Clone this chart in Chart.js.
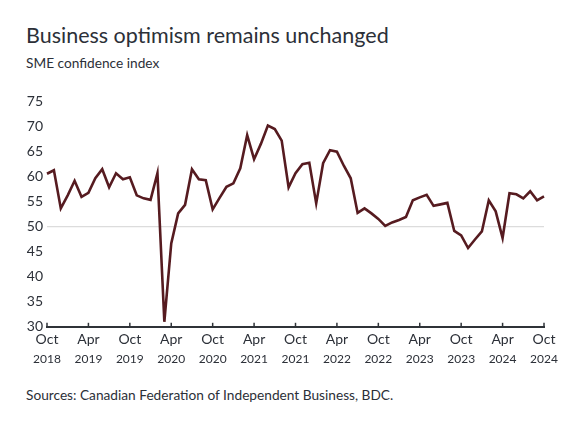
<!DOCTYPE html>
<html>
<head>
<meta charset="utf-8">
<script src="https://cdn.jsdelivr.net/npm/chart.js@4.4.1/dist/chart.umd.min.js"></script>
<style>
  body { margin: 0; background: #fff; }
  #wrap { position: relative; width: 575px; height: 431px; font-family: "Lato", sans-serif; color: #2c3038; }
  #title { position: absolute; left: 26px; top: 25px; font-size: 21.5px; line-height: 1; }
  #subtitle { position: absolute; left: 26px; top: 56px; font-size: 13.7px; line-height: 1; }
  #source { position: absolute; left: 26px; top: 388px; font-size: 13.7px; line-height: 1; }
  #box { position: absolute; left: 0; top: 85px; width: 575px; height: 285px; }
</style>
</head>
<body>
<div id="wrap">
  <div id="title">Business optimism remains unchanged</div>
  <div id="subtitle">SME confidence index</div>
  <div id="box"><canvas id="chart"></canvas></div>
  <div id="source">Sources: Canadian Federation of Independent Business, BDC.</div>
</div>
<script>
// monthly, Oct 2018 .. Oct 2024
const months = [
  "Oct 2018", "Nov 2018", "Dec 2018",
  "Jan 2019", "Feb 2019", "Mar 2019", "Apr 2019", "May 2019", "Jun 2019",
  "Jul 2019", "Aug 2019", "Sep 2019", "Oct 2019", "Nov 2019", "Dec 2019",
  "Jan 2020", "Feb 2020", "Mar 2020", "Apr 2020", "May 2020", "Jun 2020",
  "Jul 2020", "Aug 2020", "Sep 2020", "Oct 2020", "Nov 2020", "Dec 2020",
  "Jan 2021", "Feb 2021", "Mar 2021", "Apr 2021", "May 2021", "Jun 2021",
  "Jul 2021", "Aug 2021", "Sep 2021", "Oct 2021", "Nov 2021", "Dec 2021",
  "Jan 2022", "Feb 2022", "Mar 2022", "Apr 2022", "May 2022", "Jun 2022",
  "Jul 2022", "Aug 2022", "Sep 2022", "Oct 2022", "Nov 2022", "Dec 2022",
  "Jan 2023", "Feb 2023", "Mar 2023", "Apr 2023", "May 2023", "Jun 2023",
  "Jul 2023", "Aug 2023", "Sep 2023", "Oct 2023", "Nov 2023", "Dec 2023",
  "Jan 2024", "Feb 2024", "Mar 2024", "Apr 2024", "May 2024", "Jun 2024",
  "Jul 2024", "Aug 2024", "Sep 2024", "Oct 2024"
];

const confidence = [
  60.5, 61.2, 53.6,
  56.2, 59.1, 55.9, 56.7, 59.6, 61.4, 57.8, 60.6, 59.4, 59.8, 56.2, 55.6,
  55.3, 60.6, 31.0, 46.6, 52.6, 54.3, 61.4, 59.4, 59.2, 53.4, 55.7, 57.9,
  58.6, 61.6, 68.2, 63.4, 66.5, 70.1, 69.4, 67.1, 57.8, 60.6, 62.4, 62.7,
  54.6, 62.6, 65.2, 64.9, 62.1, 59.6, 52.7, 53.6, 52.6, 51.5, 50.1, 50.8,
  51.3, 51.9, 55.2, 55.8, 56.3, 54.1, 54.4, 54.7, 49.1, 48.2, 45.7, 47.4,
  49.0, 55.2, 53.0, 47.7, 56.6, 56.4, 55.6, 57.0, 55.2, 56.0
];

const yTicks = [30, 35, 40, 45, 50, 55, 60, 65, 70, 75];
const tickMonths = ["Oct", "Apr"];
const textColor = "#2c3038";

function isLabelled(i) {
  return tickMonths.includes(months[i].split(" ")[0]) && i % 6 === 0;
}

// small upward tick marks on the x axis
const upTicks = {
  id: "upTicks",
  afterDatasetsDraw(chart) {
    const xs = chart.scales.x;
    const c = chart.ctx;
    c.save();
    c.strokeStyle = "#2f3338";
    c.lineWidth = 1.5;
    months.forEach((m, i) => {
      if (!isLabelled(i)) return;
      const px = xs.getPixelForValue(i);
      c.beginPath();
      c.moveTo(px, xs.top);
      c.lineTo(px, xs.top - 4);
      c.stroke();
    });
    c.restore();
  }
};

const ctx = document.getElementById("chart").getContext("2d");
new Chart(ctx, {
  type: "line",
  data: {
    labels: months,
    datasets: [
      {
        label: "SME confidence index",
        data: confidence,
        borderColor: "#561b20",
        borderWidth: 2.6,
        pointRadius: 0,
        tension: 0,
        fill: false,
      },
    ],
  },
  options: {
    responsive: true,
    maintainAspectRatio: false,
    animation: false,
    layout: { padding: { top: 16, right: 31, left: 0, bottom: 4 } },
    plugins: {
      legend: { display: false },
      tooltip: { enabled: false },
    },
    scales: {
      x: {
        type: "category",
        weight: 0,
        grid: { display: false, drawTicks: false },
        border: { display: true, color: "#2f3338", width: 2 },
        ticks: {
          autoSkip: false,
          maxRotation: 0,
          padding: 4,
          color: textColor,
          font: { family: "Lato", size: 14 },
          callback: (v, i) => (isLabelled(i) ? months[i].split(" ")[0] : ""),
        },
      },
      x2: {
        type: "category",
        position: "bottom",
        weight: 1,
        grid: { display: false, drawTicks: false },
        border: { display: false },
        ticks: {
          autoSkip: false,
          maxRotation: 0,
          padding: 0,
          color: textColor,
          font: { family: "Lato", size: 12 },
          callback: (v, i) => (isLabelled(i) ? months[i].split(" ")[1] : ""),
        },
      },
      y: {
        min: 30,
        max: 75,
        afterFit: (scale) => { scale.width = 47; },
        afterBuildTicks: (scale) => { scale.ticks = yTicks.map((v) => ({ value: v })); },
        border: { display: false },
        grid: {
          drawTicks: false,
          color: (c) => (c.tick && c.tick.value === 50 ? "#dcdcdc" : "rgba(0,0,0,0)"),
          lineWidth: 1.2,
        },
        ticks: {
          padding: 4,
          color: textColor,
          font: { family: "Lato", size: 14 },
        },
      },
    },
  },
  plugins: [upTicks],
});
</script>
</body>
</html>
